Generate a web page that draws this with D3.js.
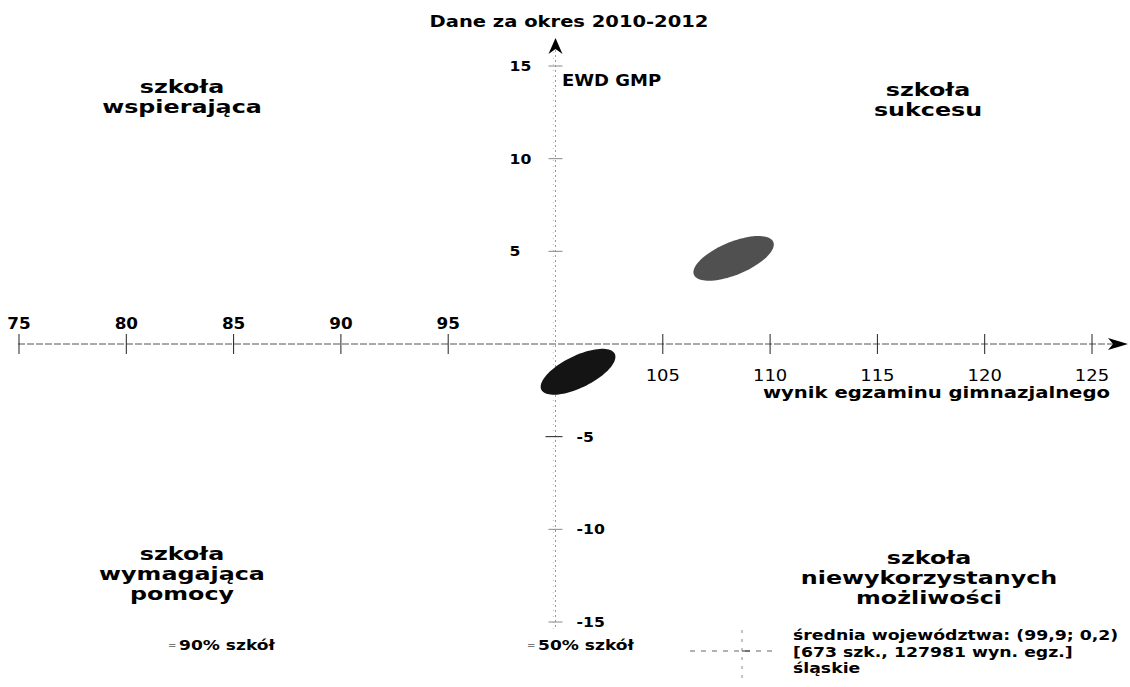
<!DOCTYPE html>
<html>
<head>
<meta charset="utf-8">
<script src="https://cdn.jsdelivr.net/npm/d3@7"></script>
<style>
  body { margin: 0; background: #fff; }
  text { font-family: "DejaVu Sans", sans-serif; fill: #000; }
</style>
</head>
<body>
<div id="vis"></div>
<script>
// values
const xTicksLeft = [75, 80, 85, 90, 95];
const xTicksRight = [105, 110, 115, 120, 125];
const yTicksUp = [15, 10, 5];
const yTicksDown = [-5, -10, -15];

// ellipses: centre (x, y) and half-axes, all in data units
const ellipseCx = [108.3, 101.05];
const ellipseCy = [4.62, -1.5];
const ellipseMajor = [[1.85, 0.885], [1.71, 0.97]];
const ellipseMinor = [[0.29, -0.82], [0.33, -0.77]];

const regionMean = [99.9, 0.2];
const titleText = "Dane za okres 2010-2012";
const yTitle = "EWD GMP";
const xTitle = "wynik egzaminu gimnazjalnego";
const quadrantNames = [
  ["szkoła", "wspierająca"],
  ["szkoła", "sukcesu"],
  ["szkoła", "wymagająca", "pomocy"],
  ["szkoła", "niewykorzystanych", "możliwości"]
];
const shareLabels = ["90% szkół", "50% szkół"];
const meanLegend = ["średnia województwa: (99,9; 0,2)", "[673 szk., 127981 wyn. egz.]", "śląskie"];

const width = 1130, height = 687;

const svg = d3.select('#vis').append('svg')
  .attr('width', width)
  .attr('height', height);

const x = d3.scaleLinear().domain([75, 125]).range([19, 1092]);
const y = d3.scaleLinear().domain([-15, 15]).range([622, 66]);

const x0 = x(100), y0 = y(0);

// text is stretched sideways in the original, so scale it horizontally
function txt(g, s, px, py, o) {
  return g.append('text')
    .attr('transform', `translate(${px},${py}) scale(${o.sx || 1},1)`)
    .attr('text-anchor', o.anchor || 'start')
    .style('font-size', o.size + 'px')
    .style('font-weight', o.bold ? 'bold' : 'normal')
    .style('fill', o.fill || '#000')
    .text(s);
}

// regional mean line (faint)
svg.append('line')
  .attr('x1', x(regionMean[0])).attr('x2', x(regionMean[0]))
  .attr('y1', 52).attr('y2', 630)
  .attr('stroke', '#c5c5c5').attr('stroke-dasharray', '1,5');

// x axis
svg.append('line')
  .attr('x1', x(75) - 1).attr('x2', 1120)
  .attr('y1', y0).attr('y2', y0)
  .attr('stroke', '#555').attr('stroke-width', 1)
  .attr('stroke-dasharray', '7,2');
svg.append('path')
  .attr('d', `M1128,${y0} L1108,${y0 - 6} L1113,${y0} L1108,${y0 + 6} Z`)
  .attr('fill', '#000');

// y axis
svg.append('line')
  .attr('x1', x0).attr('x2', x0)
  .attr('y1', 50).attr('y2', 628)
  .attr('stroke', '#999').attr('stroke-dasharray', '2,3');
svg.append('path')
  .attr('d', `M${x0},38 L${x0 - 7},54 L${x0},49 L${x0 + 7},54 Z`)
  .attr('fill', '#000');

// x ticks + labels
const xt = svg.append('g');
xt.selectAll('line').data(xTicksLeft.concat(xTicksRight)).enter().append('line')
  .attr('x1', d => x(d)).attr('x2', d => x(d))
  .attr('y1', y0 - 10).attr('y2', y0 + 10)
  .attr('stroke', '#222');
xTicksLeft.forEach(d => txt(xt, d, x(d), y0 - 15, {size: 15, bold: true, anchor: 'middle', sx: 1.12}));
xTicksRight.forEach(d => txt(xt, d, x(d), y0 + 37, {size: 15, anchor: 'middle', sx: 1.2}));

// y ticks + labels
const yt = svg.append('g');
yt.selectAll('line').data(yTicksUp.concat(yTicksDown)).enter().append('line')
  .attr('x1', d => x0 - (d === -5 ? 10 : 7)).attr('x2', x0 + 7)
  .attr('y1', d => y(d)).attr('y2', d => y(d))
  .attr('stroke', d => d === -5 ? '#222' : '#888');
yTicksUp.forEach(d => txt(yt, d, x0 - 46, y(d) + 5, {size: 14, bold: true, sx: 1.12}));
yTicksDown.forEach(d => txt(yt, d, x0 + 21, y(d) + 5, {size: 14, bold: true, sx: 1.12}));

// ellipses
const line = d3.line().curve(d3.curveLinearClosed);
const shades = ['#505050', '#141414'];
ellipseCx.forEach((cx, i) => {
  const pts = d3.range(0, 360, 4).map(a => {
    const t = a * Math.PI / 180;
    const dx = cx + ellipseMajor[i][0] * Math.cos(t) + ellipseMinor[i][0] * Math.sin(t);
    const dy = ellipseCy[i] + ellipseMajor[i][1] * Math.cos(t) + ellipseMinor[i][1] * Math.sin(t);
    return [x(dx), y(dy)];
  });
  svg.append('path').attr('d', line(pts)).attr('fill', shades[i]);
});

// titles
txt(svg, titleText, 569, 27, {size: 16, bold: true, anchor: 'middle', sx: 1.22});
txt(svg, yTitle, 562, 86, {size: 15, bold: true, sx: 1.2});
txt(svg, xTitle, 1110, 398, {size: 15, bold: true, anchor: 'end', sx: 1.31});

// quadrant names
const qPos = [[182, 93], [928, 96], [182, 560], [929, 564]];
quadrantNames.forEach((lines, i) => {
  lines.forEach((s, j) => txt(svg, s, qPos[i][0], qPos[i][1] + j * 20, {size: 17, bold: true, anchor: 'middle', sx: 1.4}));
});

// legend: share of schools
const lx = [168, 527];
shareLabels.forEach((s, i) => {
  txt(svg, '=', lx[i], 649, {size: 10, fill: '#777'});
  txt(svg, s, lx[i] + 11, 650, {size: 14, bold: true, sx: 1.22});
});

// legend: regional mean cross
svg.append('line').attr('x1', 690).attr('x2', 778).attr('y1', 651).attr('y2', 651)
  .attr('stroke', '#666').attr('stroke-dasharray', '5,6');
svg.append('line').attr('x1', 742).attr('x2', 742).attr('y1', 630).attr('y2', 680)
  .attr('stroke', '#888').attr('stroke-dasharray', '3,6');
svg.append('line').attr('x1', 742).attr('x2', 750).attr('y1', 651).attr('y2', 651)
  .attr('stroke', '#333');
meanLegend.forEach((s, j) => txt(svg, s, 793, 640 + j * 16.5, {size: 13.5, bold: true, sx: 1.28}));
</script>
</body>
</html>
